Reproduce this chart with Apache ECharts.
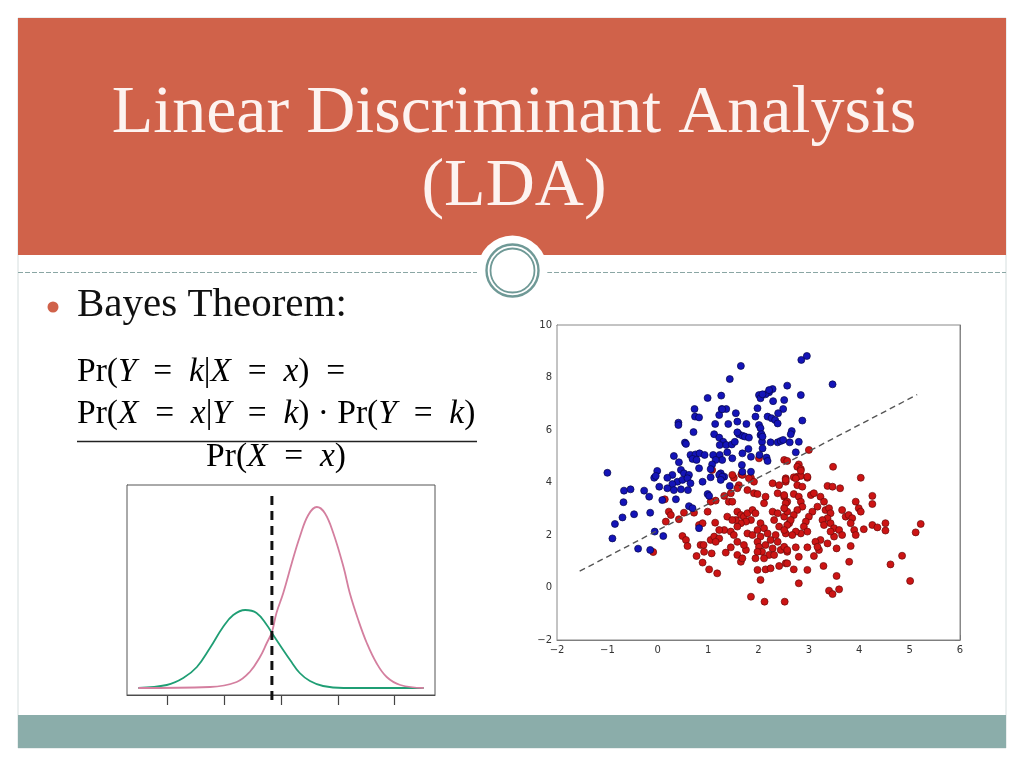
<!DOCTYPE html>
<html>
<head>
<meta charset="utf-8">
<script src="https://cdn.jsdelivr.net/npm/echarts@6/dist/echarts.min.js"></script>
<style>
  html, body { margin: 0; padding: 0; background: #fff; }
  #main { width: 1024px; height: 768px; }
</style>
</head>
<body>
<div id="main"></div>
<script>
// left panel: two class densities [x, density]
const greenCurve = [
  [-2.51, 0.00], [-2.01, 0.03], [-1.72, 0.10], [-1.48, 0.21], [-1.25, 0.40],
  [-1.02, 0.61], [-0.84, 0.73], [-0.63, 0.78], [-0.43, 0.75], [-0.25, 0.63],
  [-0.16, 0.55], [-0.02, 0.43], [0.16, 0.28], [0.33, 0.15], [0.51, 0.07],
  [0.74, 0.02], [1.10, 0.00], [2.51, 0.00]
]
const pinkCurve = [
  [-2.51, 0.00], [-1.25, 0.01], [-0.78, 0.06], [-0.55, 0.16], [-0.37, 0.31],
  [-0.25, 0.45], [-0.16, 0.56], [-0.08, 0.75], [0.04, 0.95], [0.19, 1.25],
  [0.33, 1.51], [0.48, 1.73], [0.63, 1.81], [0.77, 1.75], [0.92, 1.55],
  [1.10, 1.21], [1.21, 0.95], [1.36, 0.68], [1.51, 0.45], [1.68, 0.25],
  [1.86, 0.11], [2.10, 0.03], [2.51, 0.00]
]
const bayesBoundary = [[-0.16, -0.12], [-0.16, 1.95]]
const densityTicks = [-2, -1, 0, 1, 2]

// right panel: scatter of the two classes and the LDA boundary
const bluePoints = [
  [1.65, 8.44], [1.43, 7.94], [0.99, 7.22], [1.26, 7.31], [0.73, 6.80], [0.74, 6.51], [0.82, 6.48],
  [0.41, 6.28], [0.41, 6.19], [0.71, 5.92], [0.54, 5.52], [0.56, 5.47], [0.32, 5.01], [0.42, 4.77],
  [0.65, 5.05], [0.75, 5.07], [0.83, 5.11], [0.69, 4.90], [0.77, 4.86], [0.93, 5.05], [1.14, 6.23],
  [1.27, 6.80], [1.36, 6.80], [1.22, 6.57], [1.40, 6.23], [1.55, 6.64], [1.58, 6.32], [1.76, 6.23],
  [1.12, 5.84], [1.22, 5.71], [1.30, 5.55], [1.23, 5.43], [1.36, 5.43], [1.47, 5.45], [1.53, 5.55],
  [1.61, 5.84], [1.68, 5.78], [1.73, 5.75], [1.81, 5.71], [1.58, 5.91], [1.10, 5.05], [1.23, 5.05],
  [1.38, 5.15], [1.28, 4.86], [1.15, 4.86], [1.08, 4.69], [1.05, 4.51], [1.48, 4.92], [1.68, 5.11],
  [1.80, 5.28], [1.67, 4.67], [1.85, 4.98], [2.01, 7.33], [2.04, 7.21], [1.98, 6.83], [1.94, 6.51],
  [2.01, 6.19], [2.04, 6.07], [2.04, 5.81], [2.07, 5.55], [-0.01, 4.44], [-1.00, 4.37], [0.46, 4.48],
  [0.52, 4.35], [0.62, 4.29], [0.29, 4.29], [0.19, 4.18], [-0.07, 4.18], [0.82, 4.54], [1.25, 4.35],
  [1.32, 4.22], [1.68, 4.41],
  [2.85, 8.67], [2.96, 8.82], [3.47, 7.74], [2.57, 7.69], [2.28, 7.56], [2.21, 7.44], [2.14, 7.36],
  [2.84, 7.33], [2.51, 7.14], [2.29, 7.10], [2.49, 6.80], [2.39, 6.64], [2.18, 6.51], [2.26, 6.45],
  [2.33, 6.38], [2.38, 6.25], [2.87, 6.36], [2.06, 5.84], [2.08, 5.75], [2.66, 5.96], [2.64, 5.84],
  [2.24, 5.53], [2.38, 5.53], [2.44, 5.58], [2.49, 5.62], [2.62, 5.53], [2.80, 5.55], [2.08, 5.30],
  [2.74, 5.15], [2.02, 5.05], [2.16, 4.95], [2.18, 4.82],
  [-0.04, 4.25], [-0.27, 3.69], [-0.17, 3.46], [0.09, 3.33], [0.36, 3.36], [-0.15, 2.85], [-0.06, 2.13],
  [0.11, 1.96], [-0.15, 1.43], [0.39, 4.03], [0.49, 4.10], [0.59, 4.16], [0.65, 3.97], [0.29, 3.94],
  [0.19, 3.78], [0.32, 3.71], [0.46, 3.74], [0.60, 3.71], [0.89, 4.03], [1.05, 4.20], [1.22, 4.29],
  [1.28, 4.22], [1.25, 4.10], [1.43, 3.87], [0.99, 3.56], [1.02, 3.49], [0.62, 3.10], [0.69, 3.02],
  [0.82, 2.26], [1.85, 4.41], [-0.67, 3.69], [-0.54, 3.74], [-0.68, 3.25], [-0.47, 2.79], [-0.70, 2.67],
  [-0.85, 2.42], [-0.90, 1.87], [-0.39, 1.48], [0.03, 3.84], [2.08, 7.36], [2.21, 7.52], [1.28, 6.79]
]
const redPoints = [
  [1.08, 4.48], [2.01, 4.92], [1.51, 4.18], [1.66, 4.31], [1.85, 4.18],
  [3.00, 5.24], [2.51, 4.86], [2.57, 4.82], [2.80, 4.69], [2.77, 4.60], [2.84, 4.51], [3.48, 4.60],
  [2.77, 4.22], [2.97, 4.18], [2.54, 4.16], [4.03, 4.18],
  [1.48, 4.29], [1.68, 4.29], [1.81, 4.16], [1.91, 4.03], [1.61, 3.90], [1.58, 3.78], [1.45, 3.59],
  [1.32, 3.49], [1.15, 3.31], [1.05, 3.27], [1.41, 3.27], [1.48, 3.27], [1.78, 3.71], [1.91, 3.59],
  [1.98, 3.56], [2.28, 3.97], [2.41, 3.90], [2.54, 4.03], [2.38, 3.59], [2.51, 3.46], [2.57, 3.27],
  [2.14, 3.46], [2.11, 3.21], [0.14, 3.36], [0.22, 2.89], [0.26, 2.76], [0.16, 2.51], [0.42, 2.60],
  [0.52, 2.85], [0.72, 2.85], [0.99, 2.89], [0.82, 2.38], [0.89, 2.45], [0.49, 1.96], [0.56, 1.81],
  [0.59, 1.58], [0.85, 1.62], [0.91, 1.62], [1.05, 1.81], [1.12, 1.94], [1.22, 1.87], [1.15, 1.74],
  [0.77, 1.20], [0.89, 0.95], [1.07, 1.30], [1.02, 0.69], [1.18, 0.54], [1.14, 2.47], [1.32, 2.19],
  [1.45, 2.13], [1.51, 2.00], [1.35, 1.33], [1.58, 1.74], [1.58, 1.24], [1.65, 0.98], [1.68, 1.11],
  [1.75, 1.43], [1.71, 1.62], [1.78, 2.06], [1.88, 2.00], [1.98, 2.19], [1.58, 2.89], [1.65, 2.76],
  [1.71, 2.70], [1.78, 2.83], [1.88, 2.95], [1.94, 2.83], [1.85, 2.57], [1.75, 2.51], [1.65, 2.45],
  [1.58, 2.32], [1.55, 2.57], [2.04, 2.45], [2.11, 2.26], [2.18, 2.06], [2.04, 1.94], [1.98, 1.74],
  [2.01, 1.55], [2.07, 1.36], [2.14, 1.62], [2.24, 1.81], [2.28, 1.49], [2.21, 1.24], [2.11, 1.11],
  [1.98, 1.36], [1.94, 1.11], [2.34, 2.00], [2.38, 1.74], [2.44, 1.43], [2.57, 1.36], [2.51, 1.55],
  [2.41, 2.32], [2.31, 2.57], [2.28, 2.89], [2.38, 2.83], [2.51, 2.70], [2.57, 2.89], [2.61, 2.45],
  [2.54, 2.06], [1.98, 0.67], [2.14, 0.69], [2.04, 0.29], [2.41, 0.82], [2.54, 0.92], [1.85, -0.35],
  [2.12, -0.54], [1.45, 1.53], [-0.09, 1.35], [1.38, 2.70], [1.48, 2.57], [1.22, 2.19], [0.92, 1.36],
  [2.24, 0.73], [2.31, 1.24], [2.70, 4.20], [2.84, 4.25],
  [2.84, 4.45], [2.54, 4.10], [2.74, 4.16], [2.97, 4.22], [2.77, 3.90], [2.87, 3.84], [3.37, 3.87],
  [3.47, 3.84], [3.62, 3.78], [2.51, 3.52], [2.54, 3.21], [2.51, 3.02], [2.70, 3.56], [2.80, 3.46],
  [2.84, 3.27], [2.87, 3.08], [2.77, 2.95], [2.70, 2.76], [2.64, 2.57], [2.57, 2.38], [2.51, 2.19],
  [3.04, 3.52], [3.10, 3.59], [3.23, 3.46], [3.30, 3.27], [3.17, 3.08], [3.07, 2.89], [3.00, 2.70],
  [2.94, 2.51], [2.90, 2.32], [2.97, 2.13], [2.84, 2.06], [2.74, 2.13], [2.67, 2.00], [3.33, 2.95],
  [3.40, 3.02], [3.43, 2.83], [3.37, 2.64], [3.27, 2.57], [3.30, 2.38], [3.43, 2.45], [3.50, 2.26],
  [3.60, 2.19], [3.66, 2.00], [3.50, 1.94], [3.43, 2.13], [3.66, 2.95], [3.73, 2.70], [3.79, 2.76],
  [3.86, 2.64], [3.93, 3.27], [3.99, 3.02], [4.03, 2.89], [3.83, 2.45], [3.90, 2.19], [3.93, 2.00],
  [4.26, 3.49], [4.26, 3.18], [4.09, 2.22], [4.26, 2.38], [4.36, 2.29], [4.52, 2.45], [4.52, 2.17],
  [5.22, 2.42], [5.12, 2.10], [4.85, 1.21], [4.62, 0.88], [5.01, 0.25], [3.80, 0.98], [3.83, 1.58],
  [3.55, 1.49], [3.55, 0.44], [3.60, -0.07], [3.40, -0.12], [3.47, -0.25], [3.29, 0.82], [3.10, 1.20],
  [3.20, 1.43], [3.37, 1.68], [3.23, 1.81], [2.97, 1.53], [2.80, 1.17], [2.97, 0.67], [2.70, 0.69],
  [2.80, 0.16], [2.57, 1.43], [2.57, 0.92], [2.74, 1.53], [3.13, 1.74], [3.17, 1.55], [2.52, -0.54]
]
const ldaBoundary = [[-1.55, 0.62], [5.15, 7.35]]

const serif = '"Liberation Serif", "DejaVu Serif", serif'
const headerColor = '#d0624a'
const footerColor = '#8badaa'
const ringColor = '#6f9996'

const chart = echarts.init(document.getElementById('main'), null, { renderer: 'canvas' })

const mathRich = {
  r: { fontFamily: serif, fontSize: 33.5, color: '#111' },
  i: { fontFamily: serif, fontSize: 33.5, fontStyle: 'italic', color: '#111' }
}
// wide spacing around relations, close to TeX
const eq = '{r|\u2002=\u2002}'
const minus = v => String(v).replace('-', '\u2212')

const option = {
  animation: false,
  backgroundColor: '#fff',
  graphic: [
    { type: 'rect', z: 0, shape: { x: 18, y: 18, width: 988, height: 730 }, style: { fill: '#fff', stroke: '#d5dede', lineWidth: 1 } },
    { type: 'rect', z: 1, shape: { x: 18, y: 18, width: 988, height: 237 }, style: { fill: headerColor } },
    { type: 'rect', z: 1, shape: { x: 18, y: 715, width: 988, height: 33 }, style: { fill: footerColor } },
    { type: 'line', z: 1, shape: { x1: 18, y1: 272.5, x2: 477, y2: 272.5 }, style: { stroke: '#8aa6a4', lineWidth: 1, lineDash: [5, 2] } },
    { type: 'line', z: 1, shape: { x1: 547, y1: 272.5, x2: 1006, y2: 272.5 }, style: { stroke: '#8aa6a4', lineWidth: 1, lineDash: [5, 2] } },
    { type: 'circle', z: 2, shape: { cx: 512.5, cy: 270.5, r: 35 }, style: { fill: '#fff' } },
    { type: 'circle', z: 3, shape: { cx: 512.5, cy: 270.5, r: 26 }, style: { fill: 'none', stroke: ringColor, lineWidth: 2.4 } },
    { type: 'circle', z: 3, shape: { cx: 512.5, cy: 270.5, r: 22 }, style: { fill: 'none', stroke: ringColor, lineWidth: 1.8 } },
    { type: 'text', z: 5, x: 514, y: 114, style: { text: 'Linear Discriminant Analysis', fontFamily: serif, fontSize: 68, fill: '#fdf3f0', align: 'center', verticalAlign: 'middle' } },
    { type: 'text', z: 5, x: 514, y: 187, style: { text: '(LDA)', fontFamily: serif, fontSize: 68, fill: '#fdf3f0', align: 'center', verticalAlign: 'middle' } },
    { type: 'circle', z: 5, shape: { cx: 53, cy: 307, r: 5.5 }, style: { fill: headerColor } },
    { type: 'text', z: 5, x: 77, y: 305, style: { text: 'Bayes Theorem:', fontFamily: serif, fontSize: 41, fill: '#111', align: 'left', verticalAlign: 'middle' } },
    { type: 'text', z: 5, x: 77, y: 372, style: { text: '{r|Pr(}{i|Y}' + eq + '{i|k}{r||}{i|X}' + eq + '{i|x}{r|)}' + eq, rich: mathRich, align: 'left', verticalAlign: 'middle' } },
    { type: 'text', z: 5, x: 77, y: 414, style: { text: '{r|Pr(}{i|X}' + eq + '{i|x}{r||}{i|Y}' + eq + '{i|k}{r|) \u00b7 Pr(}{i|Y}' + eq + '{i|k}{r|)}', rich: mathRich, align: 'left', verticalAlign: 'middle' } },
    { type: 'line', z: 5, shape: { x1: 77, y1: 441.5, x2: 477, y2: 441.5 }, style: { stroke: '#222', lineWidth: 1.5 } },
    { type: 'text', z: 5, x: 276, y: 457, style: { text: '{r|Pr(}{i|X}' + eq + '{i|x}{r|)}', rich: mathRich, align: 'center', verticalAlign: 'middle' } }
  ],
  grid: [
    { left: 127, top: 485, width: 308, height: 210, show: true, borderColor: '#555', borderWidth: 1, backgroundColor: '#fff', outerBoundsMode: 'none', z: 4 },
    { left: 557, top: 325, width: 403, height: 315, show: true, borderColor: '#888', borderWidth: 1, backgroundColor: '#fff', outerBoundsMode: 'none', z: 4 }
  ],
  xAxis: [
    {
      type: 'value', gridIndex: 0, min: -2.71, max: 2.71,
      axisLine: { show: true, onZero: false, lineStyle: { color: '#444', width: 1 } },
      axisTick: { show: true, inside: false, length: 10, customValues: densityTicks, lineStyle: { color: '#444', width: 1.2 } },
      axisLabel: { show: false }, splitLine: { show: false }
    },
    {
      type: 'value', gridIndex: 1, min: -2, max: 6, interval: 1, position: 'bottom',
      axisLine: { show: true, onZero: false, lineStyle: { color: '#777' } },
      axisTick: { show: true, inside: true, length: 5, lineStyle: { color: '#666' } },
      axisLabel: { fontSize: 10, color: '#333', margin: 5, fontFamily: 'DejaVu Sans', formatter: minus },
      splitLine: { show: false }
    },
    {
      type: 'value', gridIndex: 1, min: -2, max: 6, interval: 1, position: 'top',
      axisLine: { show: true, onZero: false, lineStyle: { color: '#888' } },
      axisTick: { show: true, inside: true, length: 5, lineStyle: { color: '#666' } },
      axisLabel: { show: false }, splitLine: { show: false }
    }
  ],
  yAxis: [
    {
      type: 'value', gridIndex: 0, min: -0.07, max: 2.03,
      axisLine: { show: true, onZero: false, lineStyle: { color: '#555' } },
      axisTick: { show: false }, axisLabel: { show: false }, splitLine: { show: false }
    },
    {
      type: 'value', gridIndex: 1, min: -2, max: 10, interval: 2, position: 'left',
      axisLine: { show: true, onZero: false, lineStyle: { color: '#777' } },
      axisTick: { show: true, inside: true, length: 5, lineStyle: { color: '#666' } },
      axisLabel: { fontSize: 10, color: '#333', margin: 5, fontFamily: 'DejaVu Sans', formatter: minus },
      splitLine: { show: false }
    },
    {
      type: 'value', gridIndex: 1, min: -2, max: 10, interval: 2, position: 'right',
      axisLine: { show: true, onZero: false, lineStyle: { color: '#888' } },
      axisTick: { show: true, inside: true, length: 5, lineStyle: { color: '#666' } },
      axisLabel: { show: false }, splitLine: { show: false }
    }
  ],
  series: [
    {
      name: 'class 1', type: 'line', xAxisIndex: 0, yAxisIndex: 0, data: greenCurve,
      smooth: 0.4, showSymbol: false, z: 5, lineStyle: { color: '#1f9e74', width: 1.8 }
    },
    {
      name: 'class 2', type: 'line', xAxisIndex: 0, yAxisIndex: 0, data: pinkCurve,
      smooth: 0.4, showSymbol: false, z: 5, lineStyle: { color: '#d47f9f', width: 1.8 }
    },
    {
      name: 'Bayes boundary', type: 'line', xAxisIndex: 0, yAxisIndex: 0, data: bayesBoundary,
      showSymbol: false, clip: false, z: 6, lineStyle: { color: '#111', width: 3, type: [9, 6] }
    },
    {
      name: 'red', type: 'scatter', xAxisIndex: 1, yAxisIndex: 1, data: redPoints,
      symbolSize: 7, z: 5, itemStyle: { color: '#cc1414', borderColor: '#6a0a0a', borderWidth: 0.7, opacity: 1 }
    },
    {
      name: 'blue', type: 'scatter', xAxisIndex: 1, yAxisIndex: 1, data: bluePoints,
      symbolSize: 7, z: 5, itemStyle: { color: '#1414b8', borderColor: '#06064a', borderWidth: 0.7, opacity: 1 }
    },
    {
      name: 'LDA boundary', type: 'line', xAxisIndex: 1, yAxisIndex: 1, data: ldaBoundary,
      showSymbol: false, z: 6, lineStyle: { color: '#555', width: 1.4, type: [6, 4] }
    }
  ]
}

chart.setOption(option)
</script>
</body>
</html>
